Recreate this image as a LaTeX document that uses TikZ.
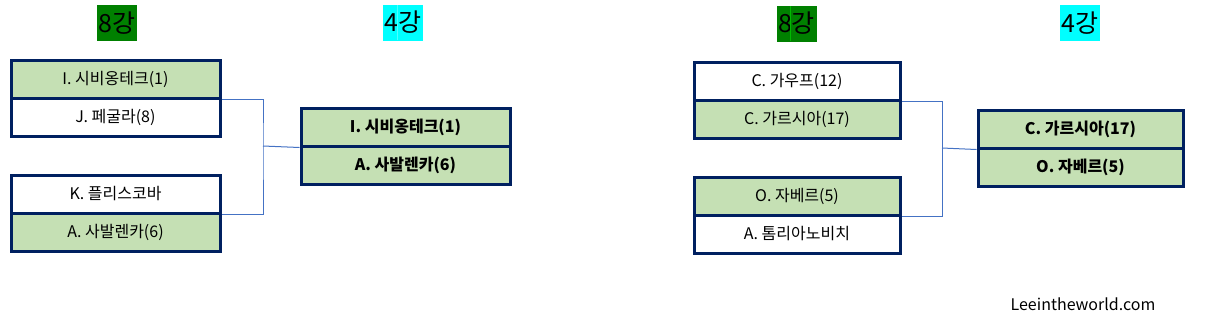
\documentclass[tikz,border=0pt]{standalone}
\usepackage{fontspec}
\setmainfont{Noto Sans CJK KR}
\definecolor{navy}{HTML}{002060}
\definecolor{lgreen}{HTML}{C5E0B4}
\definecolor{hgreen}{HTML}{008000}
\definecolor{hcyan}{HTML}{00FFFF}
\definecolor{link}{HTML}{4472C4}
\tikzset{
  cell/.style={rectangle, draw=navy, line width=3pt, inner sep=0pt, minimum height=38pt, font=\fontsize{16}{18}\selectfont},
  win/.style={cell, fill=lgreen},
  final/.style={win, font=\fontsize{16}{18}\selectfont\bfseries},
  head/.style={rectangle, inner sep=0pt, minimum width=40pt, minimum height=36pt, font=\fontsize{25}{27}\selectfont},
  link/.style={draw=link, line width=1pt}
}
\begin{document}
\begin{tikzpicture}[x=1pt,y=-1pt]
\useasboundingbox (0,0) rectangle (1213,319);
% headers
\node[head, fill=hgreen] (h1) at (117,23) {8강};
\node[head, fill=hcyan] (h2) at (403,22.5) {4강};
\node[head, fill=hgreen] (h3) at (796.5,23.5) {8강};
\node[head, fill=hcyan] (h4) at (1080,23) {4강};
\draw[green!45!hgreen, line width=0.6pt] (790,6) -- (790,41);
\draw[hcyan!70!white, line width=0.6pt] (397,5) -- (397,40);
% left bracket
\node[win, minimum width=209pt] (a1) at (115.5,79) {I. 시비옹테크(1)};
\node[cell, minimum width=209pt] (a2) at (115.5,117) {J. 페굴라(8)};
\node[cell, minimum width=209pt] (b1) at (115.5,194) {K. 플리스코바};
\node[win, minimum width=209pt] (b2) at (115.5,232) {A. 사발렌카(6)};
\node[final, minimum width=209pt] (f1) at (405.5,127) {I. 시비옹테크(1)};
\node[final, minimum width=209pt] (f2) at (405.5,165) {A. 사발렌카(6)};
\coordinate (j1) at (263,146);
\draw[link] (a1.south east) -| (j1) |- (b1.south east);
\draw[link] (j1) -- (f1.south west);
% right bracket
\node[cell, minimum width=206pt] (c1) at (797,81) {C. 가우프(12)};
\node[win, minimum width=206pt] (c2) at (797,119) {C. 가르시아(17)};
\node[win, minimum width=206pt] (d1) at (797,196) {O. 자베르(5)};
\node[cell, minimum width=206pt] (d2) at (797,234) {A. 톰리아노비치};
\node[final, minimum width=205pt] (g1) at (1080.5,129) {C. 가르시아(17)};
\node[final, minimum width=205pt] (g2) at (1080.5,167) {O. 자베르(5)};
\coordinate (j2) at (942,148);
\draw[link] (c1.south east) -| (j2) |- (d1.south east);
\draw[link] (j2) -- (g1.south west);
% watermark
\node[font=\fontsize{16}{18}\selectfont] (wm) at (1083,304) {Leeintheworld.com};
\end{tikzpicture}
\end{document}
